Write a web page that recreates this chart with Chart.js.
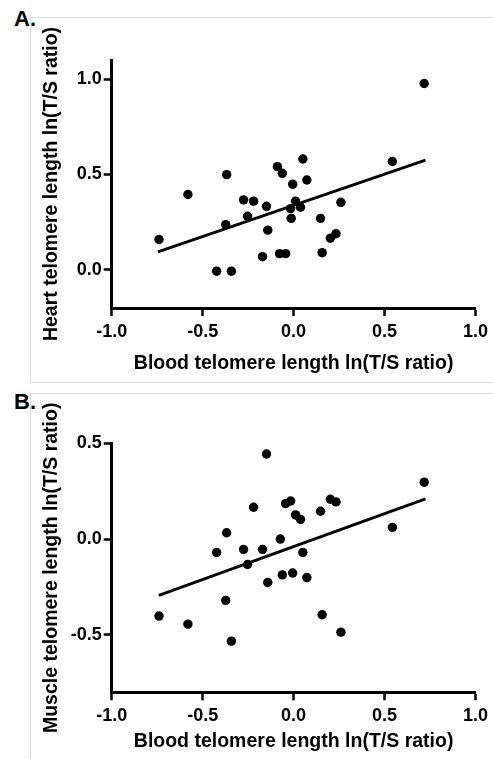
<!DOCTYPE html>
<html><head><meta charset="utf-8">
<script src="https://cdn.jsdelivr.net/npm/chart.js@4/dist/chart.umd.min.js"></script>
<style>
html,body{margin:0;padding:0;background:#fff;width:493px;height:759px;overflow:hidden;position:relative;}
.box{position:absolute;border:1px solid #dedede;}
.lbl{position:absolute;font:bold 22px "Liberation Sans",Arial,sans-serif;color:#000;line-height:1;}
canvas{position:absolute;left:0;}
</style></head><body>
<div class="box" style="left:30px;top:17px;width:480px;height:364px"></div>
<div class="box" style="left:30px;top:393px;width:480px;height:400px"></div>
<div class="lbl" style="left:14px;top:8px">A.</div>
<div class="lbl" style="left:14px;top:391px">B.</div>
<canvas id="cA" width="493" height="380" style="top:0"></canvas>
<canvas id="cB" width="493" height="379" style="top:380px"></canvas>
<script>
// ---- data ----
const xTickValues = [-1.0, -0.5, 0.0, 0.5, 1.0];
const yTickValuesA = [0.0, 0.5, 1.0];
const yTickValuesB = [-0.5, 0.0, 0.5];

const bloodA = [-0.740,-0.581,-0.368,-0.373,-0.423,-0.342,-0.275,-0.220,-0.253,-0.149,-0.142,-0.171,-0.089,-0.062,-0.077,-0.044,-0.005,0.011,-0.016,-0.013,0.038,0.051,0.073,0.148,0.157,0.202,0.233,0.260,0.543,0.718];
const heartA = [0.159,0.395,0.499,0.237,-0.007,-0.007,0.367,0.360,0.281,0.333,0.208,0.069,0.541,0.506,0.085,0.085,0.449,0.360,0.321,0.270,0.328,0.581,0.471,0.270,0.090,0.166,0.189,0.354,0.568,0.977];
const fitAx = [-0.746, 0.725];
const fitAy = [0.094, 0.575];

const bloodB = [-0.740,-0.581,-0.423,-0.368,-0.373,-0.342,-0.275,-0.253,-0.220,-0.171,-0.149,-0.142,-0.073,-0.062,-0.044,-0.016,-0.005,0.011,0.038,0.051,0.073,0.148,0.157,0.202,0.233,0.260,0.543,0.718];
const muscleB = [-0.402,-0.444,-0.070,0.033,-0.320,-0.533,-0.054,-0.133,0.166,-0.054,0.444,-0.227,0.000,-0.187,0.185,0.199,-0.177,0.126,0.103,-0.070,-0.201,0.145,-0.395,0.208,0.194,-0.486,0.061,0.297];
const fitBx = [-0.741, 0.725];
const fitBy = [-0.294, 0.210];

const xTitle = 'Blood telomere length ln(T/S ratio)';
const yTitleA = 'Heart telomere length ln(T/S ratio)';
const yTitleB = 'Muscle telomere length ln(T/S ratio)';

const FAM = '"Liberation Sans", Arial, Helvetica, sans-serif';

function makeChart(id, xs, ys, fx, fy, yMin, yMax, yTicks, yTitle, g) {
  const pts = xs.map((x, i) => ({x: x, y: ys[i]}));
  const fit = fx.map((x, i) => ({x: x, y: fy[i]}));
  const tickFont = {family: FAM, size: 18, weight: 'bold'};
  const titleFont = {family: FAM, size: 19.5, weight: 'bold'};
  const gridOpts = {drawOnChartArea: false, drawTicks: true, tickLength: 8, tickWidth: 2.5, tickColor: '#000', color: '#000'};
  const borderOpts = {display: true, width: 3, color: '#000'};
  return new Chart(document.getElementById(id), {
    type: 'scatter',
    data: {datasets: [
      {type: 'scatter', data: pts, pointRadius: 4.7, pointBackgroundColor: '#000', pointBorderWidth: 0, pointHoverRadius: 4.7},
      {type: 'line', data: fit, borderColor: '#000', borderWidth: 2.8, pointRadius: 0, fill: false, showLine: true}
    ]},
    options: {
      responsive: false, animation: false, devicePixelRatio: 1,
      events: [],
      layout: {padding: {top: g.top, left: 0, right: 493 - g.right, bottom: 0}},
      plugins: {legend: {display: false}, tooltip: {enabled: false}},
      scales: {
        x: {
          type: 'linear', min: -1, max: 1,
          afterBuildTicks: a => { a.ticks = xTickValues.map(v => ({value: v})); },
          afterFit: s => { s.height = g.h - g.bottom; },
          ticks: {callback: v => Number(v).toFixed(1), font: tickFont, color: '#000', padding: 5, maxRotation: 0, autoSkip: false},
          grid: gridOpts, border: borderOpts,
          title: {display: true, text: xTitle, font: titleFont, color: '#000', padding: {top: 0, bottom: g.xtb}}
        },
        y: {
          type: 'linear', min: yMin, max: yMax,
          afterBuildTicks: a => { a.ticks = yTicks.map(v => ({value: v})); },
          afterFit: s => { s.width = g.left; },
          ticks: {callback: v => Number(v).toFixed(1), font: tickFont, color: '#000', padding: 2, autoSkip: false},
          grid: gridOpts, border: borderOpts,
          title: {display: true, text: yTitle, font: titleFont, color: '#000', padding: {top: 40, bottom: 0}}
        }
      }
    }
  });
}

makeChart('cA', bloodA, heartA, fitAx, fitAy, -0.2, 1.1, yTickValuesA, yTitleA,
  {top: 60, bottom: 308, left: 111.7, right: 477.7, h: 380, xtb: 5});
makeChart('cB', bloodB, muscleB, fitBx, fitBy, -0.8, 0.5, yTickValuesB, yTitleB,
  {top: 63.3, bottom: 312.3, left: 111.7, right: 477.7, h: 379, xtb: 6});
</script>
</body></html>
